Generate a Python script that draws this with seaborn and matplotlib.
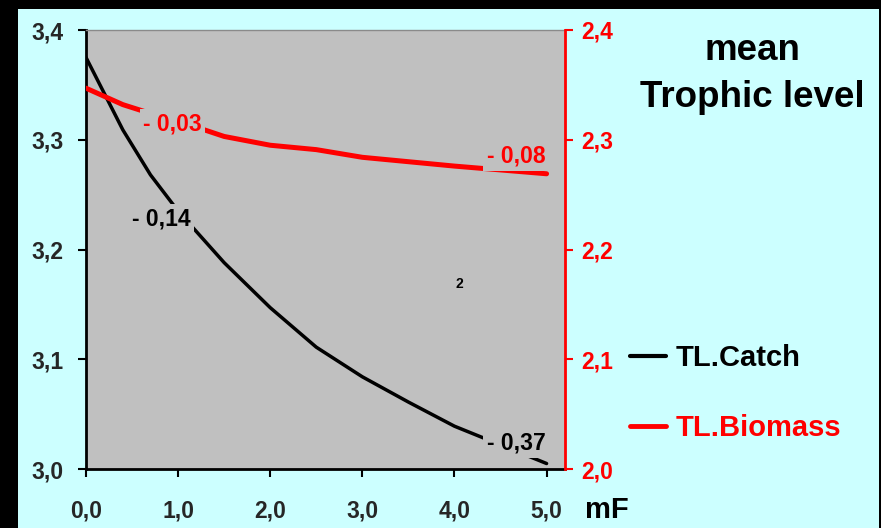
import matplotlib
matplotlib.use("Agg")
import matplotlib.pyplot as plt
from matplotlib.patches import Rectangle
from matplotlib.lines import Line2D
import seaborn as sns
import pandas as pd

# Fishing mortality multiplier and mean trophic levels
mf = [0.0, 0.4, 0.7, 1.0, 1.5, 2.0, 2.5, 3.0, 3.5, 4.0, 5.0]
tl_catch = [3.375, 3.309, 3.268, 3.235, 3.188, 3.147, 3.111, 3.084, 3.061, 3.039, 3.005]
tl_biomass = [2.347, 2.332, 2.324, 2.317, 2.303, 2.295, 2.291, 2.284, 2.280, 2.276, 2.269]

x_ticks = [0, 1, 2, 3, 4, 5]
left_ticks = [3.0, 3.1, 3.2, 3.3, 3.4]
right_ticks = [2.0, 2.1, 2.2, 2.3, 2.4]

# change relative to mF = 0, annotated at these mF values
catch_marks = [1.0, 5.0]
biomass_marks = [1.0, 5.0]

df = pd.DataFrame({"mF": mf, "TL.Catch": tl_catch, "TL.Biomass": tl_biomass})

sns.set_style("white")
plt.rcParams["font.family"] = ["Liberation Sans", "DejaVu Sans"]
plt.rcParams["font.weight"] = "bold"

W, H = 881, 528
fig = plt.figure(figsize=(W / 100, H / 100), dpi=100, facecolor="black")
fig.patches.append(Rectangle((18 / W, 0), (879 - 18) / W, (H - 9) / H,
                             transform=fig.transFigure, facecolor="#CCFFFF",
                             edgecolor="none", zorder=-5))

ax = fig.add_axes([86 / W, 1 - 469 / H, (565 - 86) / W, (469 - 30) / H])
ax.set_facecolor("#C0C0C0")
ax2 = ax.twinx()
ax2.patch.set_visible(False)

sns.lineplot(data=df, x="mF", y="TL.Catch", ax=ax, color="black", lw=2.5, legend=False)
sns.lineplot(data=df, x="mF", y="TL.Biomass", ax=ax2, color="red", lw=3.6, legend=False)

ax.set_xlim(0, 5.2)
ax.set_ylim(3.0, 3.4)
ax2.set_ylim(2.0, 2.4)


def comma(v, fmt="{:.1f}"):
    return fmt.format(v).replace(".", ",")


ax.set_xticks(x_ticks)
ax.set_xticklabels([comma(v) for v in x_ticks])
ax.set_yticks(left_ticks)
ax.set_yticklabels([comma(v) for v in left_ticks])
ax2.set_yticks(right_ticks)
ax2.set_yticklabels([comma(v) for v in right_ticks])

ax.set_xlabel("")
ax.set_ylabel("")
ax2.set_ylabel("")

TICK_FS = 16.5
ax.tick_params(axis="x", direction="out", length=6, width=1.5, color="black",
               labelsize=TICK_FS, pad=16, bottom=True)
ax.tick_params(axis="y", direction="out", length=6, width=1.5, color="black",
               labelsize=TICK_FS, pad=10, left=True)
ax2.tick_params(axis="y", direction="out", length=6, width=1.5, color="red",
                labelcolor="red", labelsize=TICK_FS, pad=5.5, right=True)
for lab in ax.get_xticklabels() + ax.get_yticklabels() + ax2.get_yticklabels():
    lab.set_fontweight("bold")

for a in (ax, ax2):
    for s in a.spines.values():
        s.set_visible(False)
ax.spines["left"].set_visible(True)
ax.spines["left"].set_color("black")
ax.spines["left"].set_linewidth(2)
ax.spines["bottom"].set_visible(True)
ax.spines["bottom"].set_color("black")
ax.spines["bottom"].set_linewidth(2)
ax.spines["top"].set_visible(True)
ax.spines["top"].set_color("#8A8A8A")
ax.spines["top"].set_linewidth(1)
ax2.spines["right"].set_visible(True)
ax2.spines["right"].set_color("red")
ax2.spines["right"].set_linewidth(2)

box = dict(facecolor="#C0C0C0", edgecolor="none", pad=2.5)


def change_label(axis, xs, ys, at, offset, color):
    i = xs.index(at)
    d = ys[i] - ys[0]
    txt = "- " + comma(abs(d), "{:.2f}")
    axis.annotate(txt, xy=(at, ys[i]), xytext=offset, textcoords="offset points",
                  ha="center", va="center", fontsize=16.5, fontweight="bold",
                  color=color, bbox=box, zorder=5)


change_label(ax, mf, tl_catch, catch_marks[0], (-12, -6), "black")
change_label(ax, mf, tl_catch, catch_marks[1], (-22, 14.5), "black")
change_label(ax2, mf, tl_biomass, biomass_marks[0], (-4, -2), "red")
change_label(ax2, mf, tl_biomass, biomass_marks[1], (-22, 12.5), "red")

fig.text(459 / W, 1 - 284 / H, "2", fontsize=10, fontweight="bold",
         ha="center", va="center", color="black")

fig.text(752 / W, 1 - 60 / H, "mean", fontsize=26.5, fontweight="bold",
         ha="center", va="baseline", color="black")
fig.text(752 / W, 1 - 107 / H, "Trophic level", fontsize=26.5, fontweight="bold",
         ha="center", va="baseline", color="black")

fig.text(585 / W, 1 - 518 / H, "mF", fontsize=21, fontweight="bold",
         ha="left", va="baseline", color="black")

handles = [Line2D([], [], color="black", lw=3),
           Line2D([], [], color="red", lw=3.5)]
fig.legend(handles, ["TL.Catch", "TL.Biomass"], loc="center left",
           bbox_to_anchor=(630 / W, 1 - 393 / H), frameon=False,
           prop={"size": 21, "weight": "bold"}, labelcolor=["black", "red"],
           handlelength=1.25, handletextpad=0.33, labelspacing=1.45,
           borderpad=0, borderaxespad=0)

fig.savefig("out.png", dpi=100, facecolor=fig.get_facecolor())
